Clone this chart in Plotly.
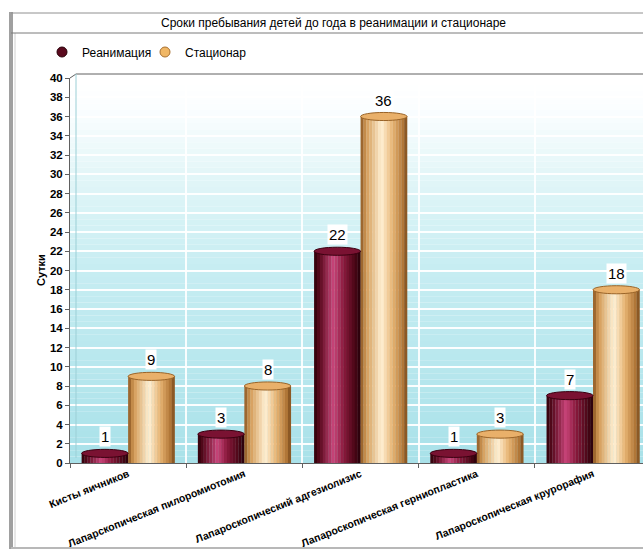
import plotly.graph_objects as go

categories = ["Кисты яичников", "Лапарскопическая пилоромиотомия",
              "Лапароскопический адгезиолизис", "Лапароскопическая герниопластика",
              "Лапароскопическая крурорафия"]
reanimation = [1, 3, 22, 1, 7]
hospital = [9, 8, 36, 3, 18]
series_names = ["Реанимация", "Стационар"]
y_ticks = list(range(0, 41, 2))

W, H = 643, 553
L, R, T, B = 70, 0, 78, 90
PW, PH = W - L - R, H - T - B


def px(x):
    return (x - L) / PW


def py(y):
    return (H - B - y) / PH


def hex2rgb(h):
    h = h.lstrip("#")
    return [int(h[i:i + 2], 16) for i in (0, 2, 4)]


def interp(stops, t):
    for (t0, c0), (t1, c1) in zip(stops, stops[1:]):
        if t0 <= t <= t1:
            f = (t - t0) / (t1 - t0) if t1 > t0 else 0
            a, b = hex2rgb(c0), hex2rgb(c1)
            return "rgb(%d,%d,%d)" % tuple(round(a[i] + (b[i] - a[i]) * f) for i in range(3))
    return stops[-1][1]


maroon = [(0, "#2e0008"), (0.12, "#5a0a1e"), (0.42, "#c9457a"), (0.62, "#8c1a3e"),
          (0.88, "#4a0615"), (1, "#25000a")]
tan = [(0, "#8a5522"), (0.12, "#d39a55"), (0.45, "#fff0d4"), (0.68, "#e8b574"),
       (0.9, "#b57a3a"), (1, "#7a4a1c")]

fig = go.Figure()

# background gradient (plot area)
bg = [(0, "#a9e1e9"), (0.5, "#c6edf2"), (0.75, "#e3f6f8"), (0.92, "#fbfeff"), (1, "#ffffff")]
NB = 60
for k in range(NB):
    y0 = 40 * k / NB
    y1 = 40 * (k + 1) / NB
    fig.add_shape(type="rect", xref="paper", yref="y", x0=0, x1=1, y0=y0, y1=y1,
                  fillcolor=interp(bg, (k + 0.5) / NB), line_width=0, layer="below")

N = 16
BW = 0.4
for s, (vals, stops) in enumerate([(reanimation, maroon), (hospital, tan)]):
    base = -BW if s == 0 else 0.0
    for k in range(N):
        t = (k + 0.5) / N
        fig.add_trace(go.Bar(
            x=list(range(len(categories))), y=vals,
            width=BW / N * 1.08, offset=base + k * BW / N,
            marker=dict(color=interp(stops, t), line_width=0),
            showlegend=False, hoverinfo="skip"))
    # caps
    for i, v in enumerate(vals):
        cap_fill = "#7a1232" if s == 0 else "#e9b06a"
        cap_line = "#3a0010" if s == 0 else "#9a6428"
        fig.add_shape(type="circle", xref="x", yref="y",
                      x0=i + base, x1=i + base + BW, y0=v - 0.42, y1=v + 0.42,
                      fillcolor=cap_fill, line=dict(color=cap_line, width=1))
        fig.add_annotation(x=i + base + BW / 2, y=v, yshift=6, yanchor="bottom",
                           text=str(v), showarrow=False, bgcolor="white",
                           font=dict(family="Liberation Sans, Arial", size=15, color="black"),
                           borderpad=1)

# legend entries
for name, col, lc in [(series_names[0], "#5a0a1e", "#2a0008"), (series_names[1], "#f0b766", "#a87030")]:
    fig.add_trace(go.Scatter(x=[None], y=[None], mode="markers", name=name,
                             marker=dict(symbol="circle", size=10, color=col,
                                         line=dict(color=lc, width=1))))

# frame
frame_shapes = [
    dict(type="line", x0=px(11), x1=px(11), y0=py(12), y1=py(549), line=dict(color="#a0a0a0", width=4)),
    dict(type="line", x0=px(15), x1=px(15), y0=py(33), y1=py(549), line=dict(color="#d0d0d0", width=1)),
    dict(type="line", x0=px(11), x1=px(643), y0=py(13), y1=py(13), line=dict(color="#909090", width=1)),
    dict(type="line", x0=px(11), x1=px(643), y0=py(33), y1=py(33), line=dict(color="#7a7a7a", width=1)),
    dict(type="line", x0=px(11), x1=px(643), y0=py(548), y1=py(548), line=dict(color="#b8b8b8", width=2)),
    dict(type="line", x0=px(76), x1=px(643), y0=py(74), y1=py(74), line=dict(color="#606060", width=1)),
    dict(type="line", x0=px(70), x1=px(76), y0=py(78), y1=py(74), line=dict(color="#606060", width=1)),
    dict(type="line", x0=px(76), x1=px(76), y0=py(74), y1=py(458), line=dict(color="#9ccfd6", width=1)),
]
for sh in frame_shapes:
    fig.add_shape(xref="paper", yref="paper", **sh)

fig.add_annotation(xref="paper", yref="paper", x=px(333), y=py(23), xanchor="center", yanchor="middle",
                   text="Сроки пребывания детей до года в реанимации и стационаре",
                   showarrow=False, font=dict(family="Liberation Sans, Arial", size=12, color="black"))
fig.add_annotation(xref="paper", yref="paper", x=px(41), y=py(270), xanchor="center", yanchor="middle",
                   text="<b>Сутки</b>", textangle=-90,
                   showarrow=False, font=dict(family="Liberation Sans, Arial", size=11, color="black"))

fig.update_layout(
    width=W, height=H, margin=dict(l=L, r=R, t=T, b=B),
    paper_bgcolor="white", plot_bgcolor="rgba(0,0,0,0)",
    barmode="overlay",
    font=dict(family="Liberation Sans, Arial", size=12, color="black"),
    legend=dict(orientation="h", x=px(42), y=py(52), xanchor="left", yanchor="middle",
                font=dict(size=12), itemwidth=30, entrywidth=58, entrywidthmode="pixels",
                bgcolor="rgba(0,0,0,0)"),
    xaxis=dict(range=[-0.5, 4.43], tickvals=list(range(len(categories))), ticktext=categories,
               tickangle=-22, showgrid=False, zeroline=False, ticks="",
               showline=True, linecolor="#606060", linewidth=1,
               tickfont=dict(family="Liberation Sans, Arial", size=10.5, color="black", weight="bold"),
               minor=dict(tick0=0.5, dtick=1, showgrid=True, gridcolor="rgba(255,255,255,0.9)",
                          gridwidth=1.5, ticks="outside", ticklen=4, tickcolor="#606060")),
    yaxis=dict(range=[0, 40], tickvals=y_ticks, showgrid=True, gridcolor="rgba(255,255,255,0.95)",
               gridwidth=1.5, zeroline=False, ticks="outside", ticklen=4, tickcolor="#606060",
               showline=True, linecolor="#606060", linewidth=1,
               tickfont=dict(family="Liberation Sans, Arial", size=11.5, color="black", weight="bold")),
)

fig.write_html("out.html")
